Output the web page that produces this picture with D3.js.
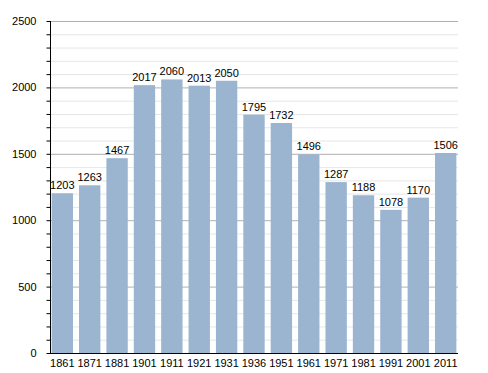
<html>
<head>
  <script src='https://d3js.org/d3.v7.min.js'></script>
  <style>body{margin:0;background:#fff;}</style>
</head>
<body>
<script>

var years = ["1861","1871","1881","1901","1911","1921","1931","1936","1951","1961","1971","1981","1991","2001","2011"];
var population = [1203,1263,1467,2017,2060,2013,2050,1795,1732,1496,1287,1188,1078,1170,1506];
var majorTicks = [0,500,1000,1500,2000,2500];

var width = 488,
    height = 373,
    margin = {top: 21, right: 30, bottom: 20, left: 50},
    barColor = "#9bb4d0";

var svg = d3.select('body')
  .append('svg')
  .attr('width', width)
  .attr('height', height)
  .style('font-family', 'Liberation Sans, Arial, sans-serif');

var x = d3.scaleBand()
  .domain(years)
  .range([margin.left, width - margin.right])
  .paddingInner(0.22)
  .paddingOuter(0.06);

var y = d3.scaleLinear()
  .domain([0, 2500])
  .range([height - margin.bottom, margin.top]);

// minor gridlines every 100
svg.append('g').selectAll('line')
  .data(d3.range(100, 2600, 100).filter(function(d) { return d % 500 != 0; }))
  .enter().append('line')
  .attr('x1', margin.left).attr('x2', width - margin.right)
  .attr('y1', function(d) { return y(d) + 0.5; })
  .attr('y2', function(d) { return y(d) + 0.5; })
  .attr('stroke', '#e6e6e6');

// major gridlines
svg.append('g').selectAll('line')
  .data(majorTicks.slice(1))
  .enter().append('line')
  .attr('x1', margin.left).attr('x2', width - margin.right)
  .attr('y1', function(d) { return y(d) + 0.5; })
  .attr('y2', function(d) { return y(d) + 0.5; })
  .attr('stroke', '#b0b0b0');

// bars
svg.append('g').selectAll('rect')
  .data(population)
  .enter().append('rect')
  .attr('x', function(d, i) { return x(years[i]); })
  .attr('y', function(d) { return y(d); })
  .attr('width', x.bandwidth())
  .attr('height', function(d) { return y(0) - y(d); })
  .attr('fill', barColor);

// value labels
svg.append('g').selectAll('text')
  .data(population)
  .enter().append('text')
  .attr('x', function(d, i) { return x(years[i]) + x.bandwidth() / 2; })
  .attr('y', function(d) { return y(d) - 4; })
  .attr('text-anchor', 'middle')
  .attr('font-size', '11px')
  .attr('fill', '#000')
  .text(function(d) { return d; });

// y axis with minor ticks
var yAxis = svg.append('g')
  .attr('transform', 'translate(' + (margin.left + 0.5) + ',0)');

yAxis.selectAll('line.minor')
  .data(d3.range(0, 2600, 100))
  .enter().append('line')
  .attr('x1', -4).attr('x2', 0)
  .attr('y1', function(d) { return y(d) + 0.5; })
  .attr('y2', function(d) { return y(d) + 0.5; })
  .attr('stroke', '#000');

yAxis.append('line')
  .attr('y1', y(2500)).attr('y2', y(0) + 0.5)
  .attr('stroke', '#000');

yAxis.selectAll('text')
  .data(majorTicks)
  .enter().append('text')
  .attr('x', -14)
  .attr('y', function(d) { return y(d) + 4; })
  .attr('text-anchor', 'end')
  .attr('font-size', '11px')
  .text(function(d) { return d; });

// x axis
svg.append('line')
  .attr('x1', margin.left).attr('x2', width - margin.right)
  .attr('y1', y(0) + 0.5).attr('y2', y(0) + 0.5)
  .attr('stroke', '#000');

svg.append('g').selectAll('text')
  .data(years)
  .enter().append('text')
  .attr('x', function(d) { return x(d) + x.bandwidth() / 2; })
  .attr('y', y(0) + 14)
  .attr('text-anchor', 'middle')
  .attr('font-size', '11px')
  .text(function(d) { return d; });

</script>
</body>
</html>
